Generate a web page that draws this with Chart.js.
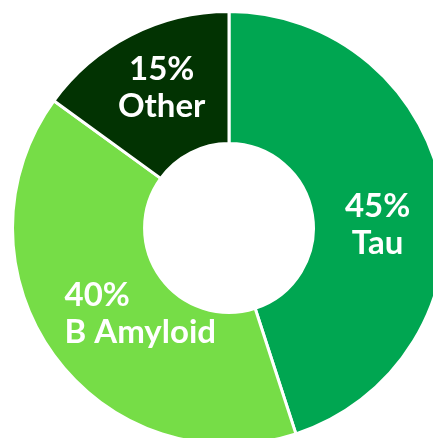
<!DOCTYPE html>
<html>
<head>
<meta charset="utf-8">
<script src="https://cdn.jsdelivr.net/npm/chart.js@4.4.0/dist/chart.umd.min.js"></script>
<style>
html,body{margin:0;padding:0;background:#fff;overflow:hidden;width:433px;height:438px;}
#wrap{position:absolute;left:11px;top:10px;width:436px;height:436px;}
</style>
</head>
<body>
<div id="wrap"><canvas id="c" width="436" height="436"></canvas></div>
<script>
const categories = ["Tau", "B Amyloid", "Other"];
const shares = [45, 40, 15];
const percentLabels = ["45%", "40%", "15%"];
const sliceColors = ["#00A651", "#76DD47", "#023302"];
const labelOffsets = [[0, 20], [33, -3], [1, -6]];
const labelAlign = ["center", "left", "center"];

const labelPlugin = {
  id: 'sliceLabels',
  afterDatasetsDraw(chart) {
    const ctx = chart.ctx;
    const meta = chart.getDatasetMeta(0);
    ctx.save();
    ctx.fillStyle = '#ffffff';
    ctx.font = 'bold 33px "Lato", "Open Sans", sans-serif';
    ctx.textBaseline = 'middle';
    meta.data.forEach((arc, i) => {
      const p = arc.tooltipPosition();
      const x = p.x + labelOffsets[i][0];
      const y = p.y + labelOffsets[i][1];
      const lines = [percentLabels[i], categories[i]];
      const lh = 37;
      if (labelAlign[i] === 'left') {
        const w = Math.max(...lines.map(l => ctx.measureText(l).width));
        ctx.textAlign = 'left';
        lines.forEach((l, k) => ctx.fillText(l, x - w / 2, y + (k - 0.5) * lh));
      } else {
        ctx.textAlign = 'center';
        lines.forEach((l, k) => ctx.fillText(l, x, y + (k - 0.5) * lh));
      }
    });
    ctx.restore();
  }
};

new Chart(document.getElementById('c'), {
  type: 'doughnut',
  data: {
    labels: categories,
    datasets: [{
      data: shares,
      backgroundColor: sliceColors,
      borderColor: '#ffffff',
      borderWidth: 3
    }]
  },
  options: {
    responsive: false,
    animation: false,
    cutout: '39%',
    layout: { padding: 0 },
    plugins: { legend: { display: false }, tooltip: { enabled: false } }
  },
  plugins: [labelPlugin]
});
</script>
</body>
</html>
